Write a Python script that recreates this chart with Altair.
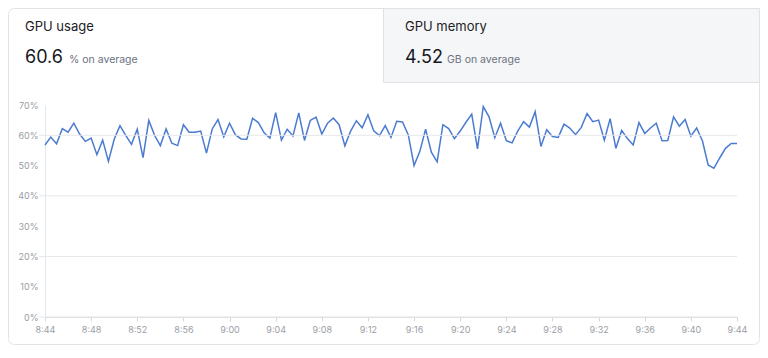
import altair as alt
import pandas as pd

# ---- data ----
start_time = "2024-01-01T08:44:00"
step_seconds = 30
gpu_usage = [
    56.8, 59.4, 57.2, 62.2, 61.0, 64.0, 60.4, 58.0, 59.1, 53.6,
    58.4, 51.4, 58.7, 63.2, 60.0, 57.0, 62.0, 52.6, 64.9, 60.0,
    56.6, 62.1, 57.4, 56.6, 63.5, 61.0, 61.0, 61.4, 54.1, 62.1,
    65.2, 59.5, 64.0, 60.2, 58.8, 58.7, 65.6, 64.2, 60.8, 59.1,
    67.5, 58.4, 62.0, 59.8, 67.4, 58.3, 64.9, 66.0, 60.4, 64.0,
    65.7, 63.5, 56.5, 61.4, 64.8, 62.5, 66.8, 61.5, 59.9, 63.2,
    59.3, 64.6, 64.4, 60.1, 50.0, 54.7, 62.0, 54.4, 51.2, 63.5,
    62.2, 58.9, 61.4, 64.3, 67.0, 55.5, 69.5, 66.1, 59.2, 64.0,
    58.2, 57.5, 61.5, 64.5, 62.7, 67.8, 56.3, 61.8, 59.6, 59.3,
    63.7, 62.4, 60.2, 62.6, 67.2, 64.5, 65.0, 58.4, 65.5, 55.7,
    61.6, 58.9, 56.8, 64.2, 60.6, 62.4, 64.0, 58.2, 58.3, 66.1,
    63.0, 65.2, 59.7, 62.4, 58.2, 50.2, 49.1, 52.5, 55.7, 57.3,
    57.3,
]
x_tick_times = [(8, 44), (8, 48), (8, 52), (8, 56), (9, 0), (9, 4), (9, 8), (9, 12),
                (9, 16), (9, 20), (9, 24), (9, 28), (9, 32), (9, 36), (9, 40), (9, 44)]
y_label_values = [0, 10, 20, 30, 40, 50, 60, 70]
grid_values = [0, 20, 40, 60]

tab1_title, tab1_value, tab1_unit = "GPU usage", "60.6", "% on average"
tab2_title, tab2_value, tab2_unit = "GPU memory", "4.52", "GB on average"

times = pd.date_range(start_time, periods=len(gpu_usage), freq=f"{step_seconds}s")
df = pd.DataFrame({"time": list(times.strftime("%Y-%m-%dT%H:%M:%S")), "usage": gpu_usage})
grid_df = pd.DataFrame({"g": grid_values})

W, H = 692, 212
PAD = {"left": 37, "top": 97, "right": 23, "bottom": 28}
FONT = "Inter"
LABEL_COLOR = "#9a9ea6"
LINE_COLOR = "#e6e7ea"

x_values = [alt.DateTime(year=2024, month=1, date=1, hours=h, minutes=m) for h, m in x_tick_times]

y_scale = alt.Scale(domain=[0, 70], nice=False, zero=True)
y_axis = alt.Axis(
    values=y_label_values, labelExpr="datum.value + '%'", title=None, grid=False,
    ticks=False, domain=True, domainColor=LINE_COLOR, labelPadding=7,
    labelColor=LABEL_COLOR, labelFontSize=9, labelFont=FONT,
)

line = alt.Chart(df).mark_line(color="#4a7bd0", strokeWidth=1.5).encode(
    x=alt.X(
        "time:T",
        scale=alt.Scale(nice=False),
        axis=alt.Axis(
            format="%-H:%M", values=x_values,
            title=None, grid=False, domainColor="#d6d8dc", tickColor="#d6d8dc",
            tickSize=4, labelColor=LABEL_COLOR, labelFontSize=9, labelFont=FONT,
            labelPadding=4, labelFlush=False, labelOverlap=False,
        ),
    ),
    y=alt.Y("usage:Q", scale=y_scale, axis=y_axis),
)

grid = alt.Chart(grid_df).mark_rule(color=LINE_COLOR, strokeWidth=1).encode(
    y=alt.Y("g:Q", scale=y_scale, axis=y_axis),
    x=alt.value(-6),
    x2=alt.value(W),
)

one = pd.DataFrame({"a": [0]})

card = alt.Chart(one).mark_rect(
    fillOpacity=0, stroke="#e0e2e6", strokeWidth=1, cornerRadius=6
).encode(
    x=alt.value(-PAD["left"] + 0.5), x2=alt.value(W + PAD["right"] - 0.5),
    y=alt.value(-PAD["top"] + 0.5), y2=alt.value(H + PAD["bottom"] - 0.5),
)

tab2_bg = alt.Chart(one).mark_rect(
    fill="#f5f6f8", stroke="#e0e2e6", strokeWidth=1
).encode(
    x=alt.value(338.5), x2=alt.value(W + PAD["right"] - 0.5),
    y=alt.value(-PAD["top"] + 0.5), y2=alt.value(-22.5),
)


def txt(s, x, y, size, color, baseline="alphabetic"):
    return alt.Chart(pd.DataFrame({"t": [s]})).mark_text(
        align="left", baseline=baseline, fontSize=size, font=FONT, color=color,
    ).encode(text="t:N", x=alt.value(x), y=alt.value(y))


texts = [
    txt(tab1_title, -20, -78, 13, "#1d2127", baseline="middle"),
    txt(tab1_value, -20, -42, 18, "#15181d"),
    txt(tab1_unit, 24, -42, 10.5, "#6b7280"),
    txt(tab2_title, 360, -78, 13, "#1d2127", baseline="middle"),
    txt(tab2_value, 360, -42, 18, "#15181d"),
    txt(tab2_unit, 402, -42, 10.5, "#6b7280"),
]

chart = alt.layer(line, grid, card, tab2_bg, *texts).properties(
    width=W, height=H, padding=PAD,
    autosize=alt.AutoSizeParams(type="none"),
    background="white",
).configure_view(stroke=None)

chart.save("out.html", embed_options={"renderer": "svg", "actions": False})
